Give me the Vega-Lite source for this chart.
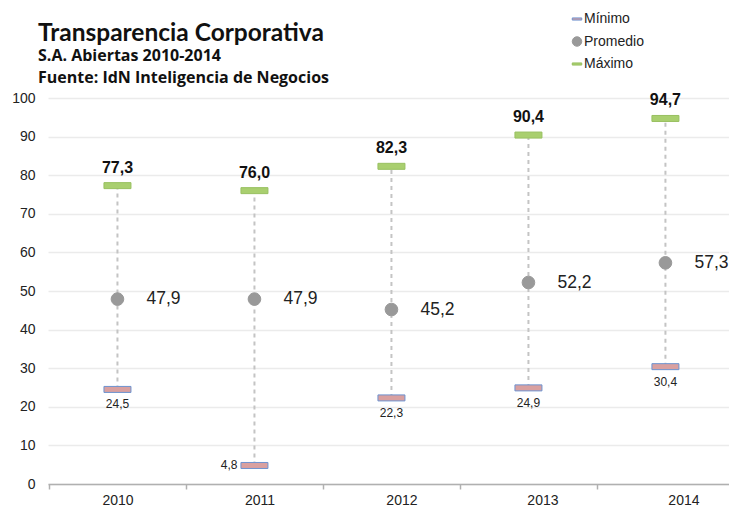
{
  "$schema": "https://vega.github.io/schema/vega-lite/v6.json",
  "autosize": "none",
  "width": 681,
  "height": 386,
  "padding": {"left": 48, "top": 98, "right": 0, "bottom": 24},
  "background": "white",
  "config": {
    "view": {"stroke": null},
    "locale": {"number": {"decimal": ",", "thousands": ".", "grouping": [3], "currency": ["", " €"]}},
    "axisY": {
      "title": null,
      "tickCount": 10,
      "format": "d",
      "domain": false,
      "ticks": false,
      "grid": true,
      "gridColor": "#ebebeb",
      "gridWidth": 1.5,
      "labelFont": "Liberation Sans",
      "labelFontSize": 14,
      "labelColor": "#222",
      "labelPadding": 13
    },
    "legend": {
      "title": null,
      "orient": "none",
      "legendX": 522,
      "legendY": -86,
      "labelFont": "Liberation Sans",
      "labelFontSize": 14,
      "labelColor": "#222",
      "labelOffset": 0,
      "rowPadding": 8.5,
      "symbolStrokeWidth": 1,
      "symbolSize": 90
    }
  },
  "title": {
    "text": "Transparencia Corporativa",
    "subtitle": ["S.A. Abiertas 2010-2014", "Fuente: IdN Inteligencia de Negocios"],
    "anchor": "start",
    "frame": "group",
    "dx": -10,
    "dy": 91,
    "offset": 16,
    "font": "Lato",
    "fontSize": 24.5,
    "fontWeight": "bold",
    "color": "#111",
    "subtitleFont": "Open Sans",
    "subtitleFontSize": 16,
    "subtitleFontWeight": "bold",
    "subtitleColor": "#111",
    "subtitleLineHeight": 22,
    "subtitlePadding": 2
  },
  "data": {
    "values": [
      {"year": 2010, "Mínimo": 24.5, "Promedio": 47.9, "Máximo": 77.3},
      {"year": 2011, "Mínimo": 4.8, "Promedio": 47.9, "Máximo": 76.0},
      {"year": 2012, "Mínimo": 22.3, "Promedio": 45.2, "Máximo": 82.3},
      {"year": 2013, "Mínimo": 24.9, "Promedio": 52.2, "Máximo": 90.4},
      {"year": 2014, "Mínimo": 30.4, "Promedio": 57.3, "Máximo": 94.7}
    ]
  },
  "encoding": {
    "x": {
      "field": "year",
      "type": "quantitative",
      "scale": {"domain": [2009.493, 2014.464], "nice": false, "zero": false},
      "axis": {
        "title": null,
        "values": [2009.5, 2010, 2010.5, 2011, 2011.5, 2012, 2012.5, 2013, 2013.5, 2014],
        "labelExpr": "abs(datum.value - round(datum.value)) < 0.01 ? format(datum.value, 'd') : ''",
        "grid": false,
        "ticks": true,
        "tickSize": 5,
        "tickColor": "#b0b0b0",
        "tickWidth": 1.5,
        "tickOpacity": {"condition": {"test": "abs(datum.value - round(datum.value)) < 0.01", "value": 0}, "value": 1},
        "labelOffset": {"condition": [
          {"test": "datum.value > 2013.9", "value": 18},
          {"test": "datum.value > 2012.9", "value": 14},
          {"test": "datum.value > 2011.9", "value": 10},
          {"test": "datum.value > 2010.9", "value": 5}
        ], "value": 0},
        "domainColor": "#b0b0b0",
        "domainWidth": 1.5,
        "labelFont": "Liberation Sans",
        "labelFontSize": 14,
        "labelColor": "#222",
        "labelPadding": 4,
        "labelOverlap": false
      }
    }
  },
  "layer": [
    {
      "mark": {"type": "rule", "strokeDash": [4, 4], "strokeWidth": 2, "color": "#c4c4c4"},
      "encoding": {
        "y": {"field": "Mínimo", "type": "quantitative", "scale": {"domain": [0, 100], "nice": false}},
        "y2": {"field": "Máximo"}
      }
    },
    {
      "transform": [{"fold": ["Mínimo", "Promedio", "Máximo"], "as": ["serie", "valor"]}],
      "mark": {"type": "point", "filled": true, "opacity": 1, "strokeWidth": 1},
      "encoding": {
        "y": {"field": "valor", "type": "quantitative"},
        "shape": {
          "field": "serie",
          "type": "nominal",
          "scale": {
            "domain": ["Mínimo", "Promedio", "Máximo"],
            "range": ["M-1,-0.222H1V0.222H-1Z", "circle", "M-1,-0.222H1V0.222H-1Z"]
          }
        },
        "fill": {
          "field": "serie",
          "type": "nominal",
          "scale": {"domain": ["Mínimo", "Promedio", "Máximo"], "range": ["#d9a0a0", "#999999", "#a9cf6f"]}
        },
        "stroke": {
          "field": "serie",
          "type": "nominal",
          "scale": {"domain": ["Mínimo", "Promedio", "Máximo"], "range": ["#6d93d0", "#999999", "#98c060"]}
        },
        "size": {"condition": {"test": "datum.serie === 'Promedio'", "value": 160}, "value": 729}
      }
    },
    {
      "mark": {"type": "text", "font": "Liberation Sans", "fontSize": 16, "fontWeight": "bold", "color": "#111", "baseline": "alphabetic", "dy": -13},
      "encoding": {
        "y": {"field": "Máximo", "type": "quantitative"},
        "text": {"field": "Máximo", "type": "quantitative", "format": ".1f"}
      }
    },
    {
      "mark": {"type": "text", "font": "Liberation Sans", "fontSize": 17.5, "color": "#222", "align": "left", "baseline": "middle", "dx": 29},
      "encoding": {
        "y": {"field": "Promedio", "type": "quantitative"},
        "text": {"field": "Promedio", "type": "quantitative", "format": ".1f"}
      }
    },
    {
      "transform": [{"filter": "datum.year !== 2011"}],
      "mark": {"type": "text", "font": "Liberation Sans", "fontSize": 12, "color": "#222", "baseline": "top", "dy": 10},
      "encoding": {
        "y": {"field": "Mínimo", "type": "quantitative"},
        "text": {"field": "Mínimo", "type": "quantitative", "format": ".1f"}
      }
    },
    {
      "transform": [{"filter": "datum.year === 2011"}],
      "mark": {"type": "text", "font": "Liberation Sans", "fontSize": 12, "color": "#222", "align": "right", "baseline": "middle", "dx": -17},
      "encoding": {
        "y": {"field": "Mínimo", "type": "quantitative"},
        "text": {"field": "Mínimo", "type": "quantitative", "format": ".1f"}
      }
    }
  ]
}
